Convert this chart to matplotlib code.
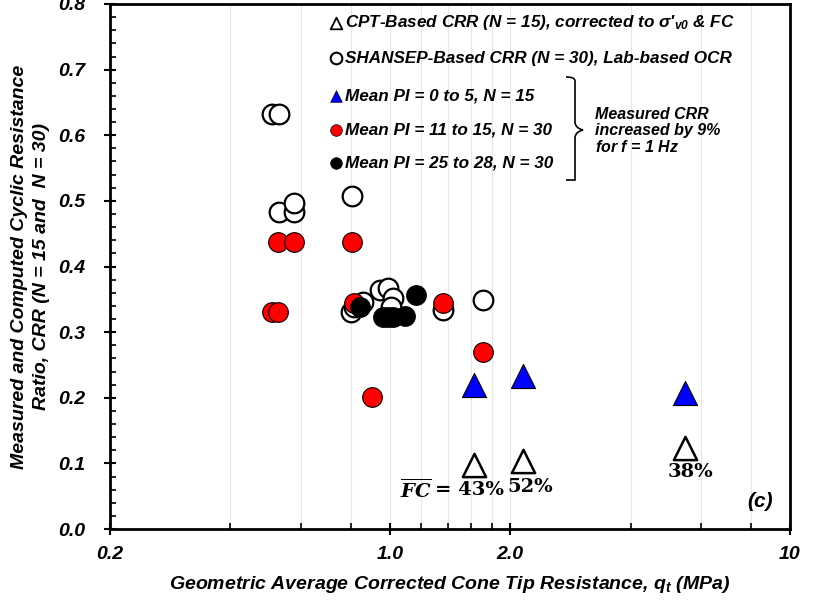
import matplotlib
matplotlib.use("Agg")
import matplotlib.pyplot as plt
from matplotlib.path import Path
from matplotlib.patches import PathPatch
from matplotlib.ticker import FixedLocator, NullFormatter

plt.rcParams.update({
    "font.family": "Liberation Sans",
    "font.weight": "bold",
    "font.style": "italic",
    "axes.labelweight": "bold",
    "mathtext.fontset": "custom",
    "mathtext.rm": "Liberation Sans:bold:italic",
    "mathtext.it": "Liberation Sans:bold:italic",
    "mathtext.bf": "DejaVu Serif:bold:italic",
})

# --- data --------------------------------------------------------------------
# SHANSEP-based CRR (open circles)
qt_shansep = [0.508, 0.529, 0.529, 0.577, 0.577, 0.805, 0.80, 0.815, 0.858,
              0.946, 0.991, 1.02, 1.01, 1.36, 1.71]
crr_shansep = [0.633, 0.633, 0.483, 0.483, 0.497, 0.508, 0.331, 0.338, 0.346,
               0.364, 0.367, 0.352, 0.338, 0.334, 0.349]
# Mean PI = 11 to 15 (red)
qt_pi11 = [0.527, 0.577, 0.805, 0.508, 0.527, 0.815, 1.36, 0.904, 1.71]
crr_pi11 = [0.438, 0.438, 0.438, 0.331, 0.331, 0.345, 0.345, 0.201, 0.270]
# Mean PI = 25 to 28 (black)
qt_pi25 = [0.843, 0.963, 0.991, 1.02, 1.093, 1.164]
crr_pi25 = [0.338, 0.323, 0.323, 0.323, 0.325, 0.357]
# Mean PI = 0 to 5 (blue triangles)
qt_pi0 = [1.626, 2.156, 5.48]
crr_pi0 = [0.220, 0.233, 0.207]
# CPT-based CRR (open triangles) and fines content labels
qt_cpt = [1.626, 2.156, 5.48]
crr_cpt = [0.098, 0.104, 0.123]
fc_labels = [r"$\overline{\mathbf{FC}}$", "52%", "38%"]

x_major = [0.2, 1.0, 2.0, 10]
x_minor = [0.4, 0.6, 0.8, 1.2, 1.4, 1.6, 1.8, 4, 6, 8]

fig = plt.figure(figsize=(8.33, 6.0), dpi=100)
ax = fig.add_axes([110 / 833, 71 / 600, 680 / 833, 525 / 600])

for x in x_major + x_minor:
    ax.axvline(x, color="#e6e6e6", lw=0.8, zorder=0)

ax.scatter(qt_shansep, crr_shansep, s=200, facecolor="white",
           edgecolor="black", linewidths=1.6, zorder=2)
ax.scatter(qt_pi11, crr_pi11, s=200, facecolor="#ff0000",
           edgecolor="black", linewidths=0.8, zorder=3)
ax.scatter(qt_pi25, crr_pi25, s=200, facecolor="black",
           edgecolor="black", linewidths=0.8, zorder=4)
ax.scatter(qt_pi0, crr_pi0, marker="^", s=300, facecolor="#0000ff",
           edgecolor="black", linewidths=0.8, zorder=4)
ax.scatter(qt_cpt, crr_cpt, marker="^", s=280, facecolor="white",
           edgecolor="black", linewidths=1.8, zorder=4)

serif = dict(family="DejaVu Serif", style="normal", weight="bold", fontsize=14)
# FC label: overlined italic FC followed by serif "= 43%"
ax.annotate(fc_labels[0], (qt_cpt[0], crr_cpt[0]), xytext=(-42, -25),
            textcoords="offset pixels", ha="right", va="center", fontsize=14,
            zorder=5)
ax.annotate("= 43%", (qt_cpt[0], crr_cpt[0]), xytext=(30, -25),
            textcoords="offset pixels", ha="right", va="center", zorder=5,
            **serif)
for x, y, lab, off in zip(qt_cpt[1:], crr_cpt[1:], fc_labels[1:],
                          [(7, -26), (5, -24)]):
    ax.annotate(lab, (x, y), xytext=off, textcoords="offset pixels",
                ha="center", va="center", zorder=5, **serif)

ax.set_xscale("log")
ax.set_xlim(0.2, 10)
ax.set_ylim(0, 0.8)
ax.xaxis.set_major_locator(FixedLocator(x_major))
ax.xaxis.set_minor_locator(FixedLocator(x_minor))
ax.xaxis.set_minor_formatter(NullFormatter())
ax.set_xticklabels(["0.2", "1.0", "2.0", "10"])
ax.set_yticks([i / 10 for i in range(9)])
ax.set_yticks([i / 50 for i in range(41)], minor=True)
ax.set_yticklabels([f"{i / 10:.1f}" for i in range(9)])
ax.tick_params(which="major", direction="inout", length=8, width=1.5,
               labelsize=14)
ax.tick_params(axis="y", which="major", pad=14)
ax.tick_params(axis="x", which="major", pad=8)
ax.tick_params(which="minor", direction="in", length=4, width=1.2)
for sp in ax.spines.values():
    sp.set_linewidth(2)

ax.set_xlabel("Geometric Average Corrected Cone Tip Resistance, $q_t$ (MPa)",
              fontsize=14, labelpad=8)
ax.set_ylabel("Measured and Computed Cyclic Resistance\nRatio, CRR (N = 15 and  N = 30)",
              fontsize=14, labelpad=6, linespacing=1.35)

ax.text(0.975, 0.035, "(c)", transform=ax.transAxes, fontsize=15,
        ha="right", va="bottom")


# legend drawn by hand, positions in axes fractions
def fx(px):
    return (px - 110) / 680


def fy(py):
    return (529 - py) / 525


leg = [
    ("^", "white", 1.3, "CPT-Based CRR (N = 15), corrected to σ'$_{v0}$ & FC", 23),
    ("o", "white", 1.5, "SHANSEP-Based CRR (N = 30), Lab-based OCR", 58),
    ("^", "#0000ff", 0.5, "Mean PI = 0 to 5, N = 15", 96),
    ("o", "#ff0000", 0.5, "Mean PI = 11 to 15, N = 30", 130),
    ("o", "black", 0.5, "Mean PI = 25 to 28, N = 30", 163),
]
for mk, fc, lw, txt, py in leg:
    ax.scatter([fx(336)], [fy(py)], transform=ax.transAxes, marker=mk, s=70,
               facecolor=fc, edgecolor="black", linewidths=lw, zorder=6,
               clip_on=False)
    ax.text(fx(345), fy(py), txt, transform=ax.transAxes, fontsize=12.3,
            ha="left", va="center", zorder=6)

ax.text(fx(595), fy(131), "Measured CRR\nincreased by 9%\nfor $f$ = 1 Hz",
        transform=ax.transAxes, fontsize=11.5, ha="left", va="center",
        linespacing=1.05)

# curly brace
top, mid, bot = 77, 130, 180
pts = [(566, top), (575, top), (575, top + 4), (575, top + 10),
       (575, mid - 8), (575, mid - 2), (583, mid),
       (575, mid + 2), (575, mid + 8),
       (575, bot - 10), (575, bot - 4), (575, bot), (566, bot)]
codes = [Path.MOVETO, Path.CURVE3, Path.CURVE3, Path.LINETO,
         Path.LINETO, Path.CURVE3, Path.CURVE3,
         Path.CURVE3, Path.CURVE3,
         Path.LINETO, Path.CURVE3, Path.CURVE3, Path.LINETO]
brace = Path([(fx(x), fy(y)) for x, y in pts], codes)
ax.add_patch(PathPatch(brace, transform=ax.transAxes, fill=False,
                       lw=1.2, color="black", clip_on=False, zorder=6))

fig.savefig("out.png", dpi=100)
